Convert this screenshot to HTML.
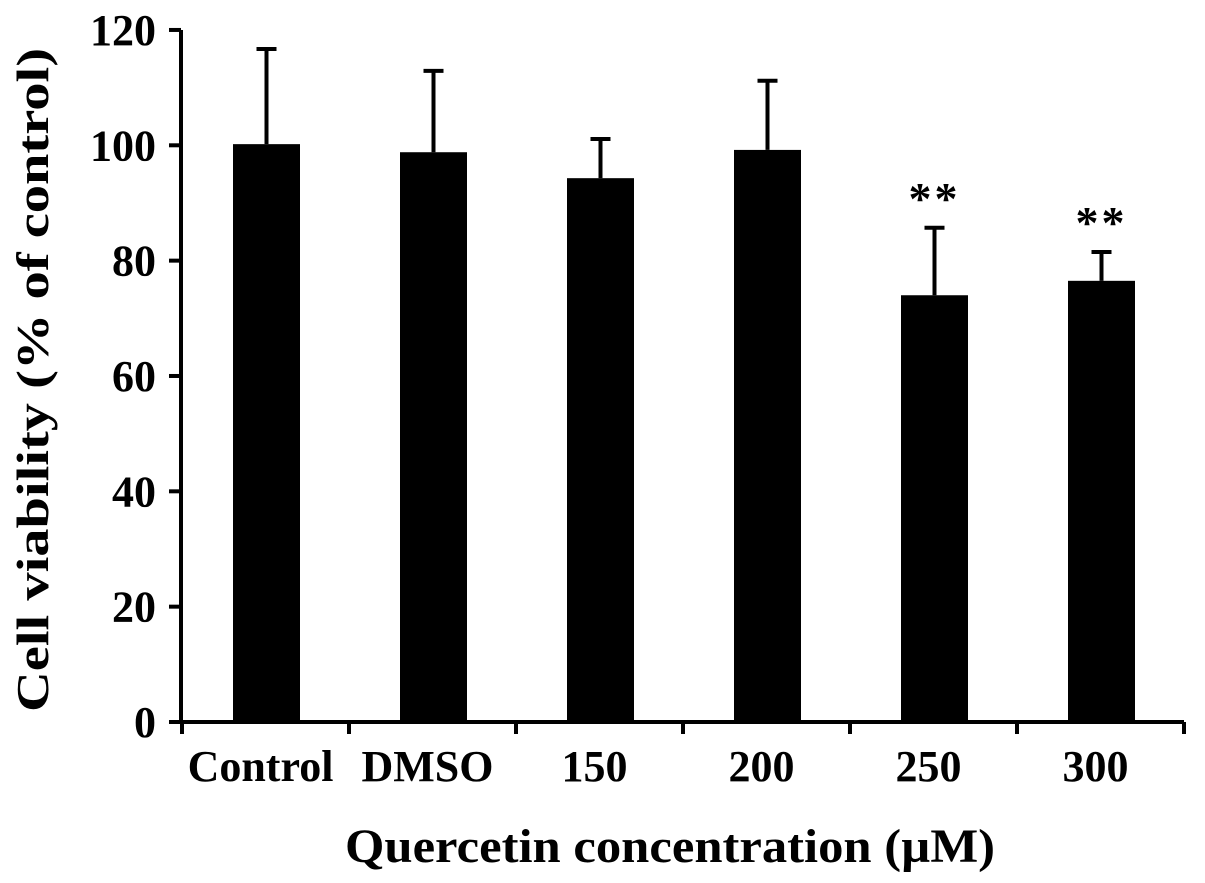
<!DOCTYPE html>
<html><head><meta charset="utf-8"><style>
html,body{margin:0;padding:0;background:#fff;}
svg{display:block;font-family:"Liberation Serif",serif;font-weight:bold;}
</style></head><body>
<svg id="chart" width="1205" height="883" viewBox="0 0 1205 883" xmlns="http://www.w3.org/2000/svg">
<g id="axes"></g>
<g id="bars"></g>
<text transform="translate(48,380) rotate(-90)" text-anchor="middle" font-size="46" textLength="664" lengthAdjust="spacingAndGlyphs">Cell viability (% of control)</text>
<text x="670" y="862" text-anchor="middle" font-size="48" textLength="650" lengthAdjust="spacingAndGlyphs">Quercetin concentration (µM)</text>
</svg>
<script>
const categories = ["Control","DMSO","150","200","250","300"];
const means = [100.2, 98.8, 94.3, 99.2, 74.0, 76.5];
const errors = [16.5, 14.1, 6.8, 12.0, 11.7, 5.0];
const significance = ["","","","","**","**"];
const yTicks = [0,20,40,60,80,100,120];

const NS="http://www.w3.org/2000/svg";
const x0=182, band=167, barW=67, yBase=722, yScale=5.767;
function xC(i){return x0+band*i+band/2;}
function yP(v){return yBase-v*yScale;}
function mk(tag,attrs,parent){const e=document.createElementNS(NS,tag);for(const k in attrs)e.setAttribute(k,attrs[k]);parent.appendChild(e);return e;}
const axes=document.getElementById('axes'), bars=document.getElementById('bars');

let yl=mk('line',{x1:181,y1:yP(120),x2:181,y2:yBase+2,stroke:'#000','stroke-width':4},axes);


let xl=mk('line',{x1:169,y1:yBase,x2:x0+band*categories.length,y2:yBase,stroke:'#000','stroke-width':4},axes);



yTicks.forEach(v=>{
  let t=mk('line',{x1:169,y1:yP(v),x2:181,y2:yP(v),stroke:'#000','stroke-width':4},axes);
  
  
  let l=mk('text',{x:156,y:yP(v)+15,'text-anchor':'end','font-size':44},axes);
  l.textContent=v;
  
  
});
for(let i=0;i<=categories.length;i++){
  let t=mk('line',{x1:x0+band*i,y1:yBase,x2:x0+band*i,y2:yBase+12,stroke:'#000','stroke-width':4},axes);
  
  
}
categories.forEach((c,i)=>{
  let l=mk('text',{x:xC(i)-5,y:781,'text-anchor':'middle','font-size':44},axes);
  l.textContent=c;
  
  
  let cx=xC(i)+1, top=yP(means[i]), et=yP(means[i]+errors[i]);
  let r=mk('rect',{x:cx-barW/2,y:top,width:barW,height:yBase-top,fill:'#000'},bars);
  
  
  let e=mk('line',{x1:cx,y1:top,x2:cx,y2:et,stroke:'#000','stroke-width':4},bars);
  
  
  let cap=mk('line',{x1:cx-10,y1:et,x2:cx+10,y2:et,stroke:'#000','stroke-width':4},bars);
  
  
  if(significance[i]){
    let s=mk('text',{x:cx,y:et-14,'text-anchor':'middle','font-size':46,'letter-spacing':'3'},bars);
    s.textContent=significance[i];
    
    
  }
});
</script>
</body></html>
